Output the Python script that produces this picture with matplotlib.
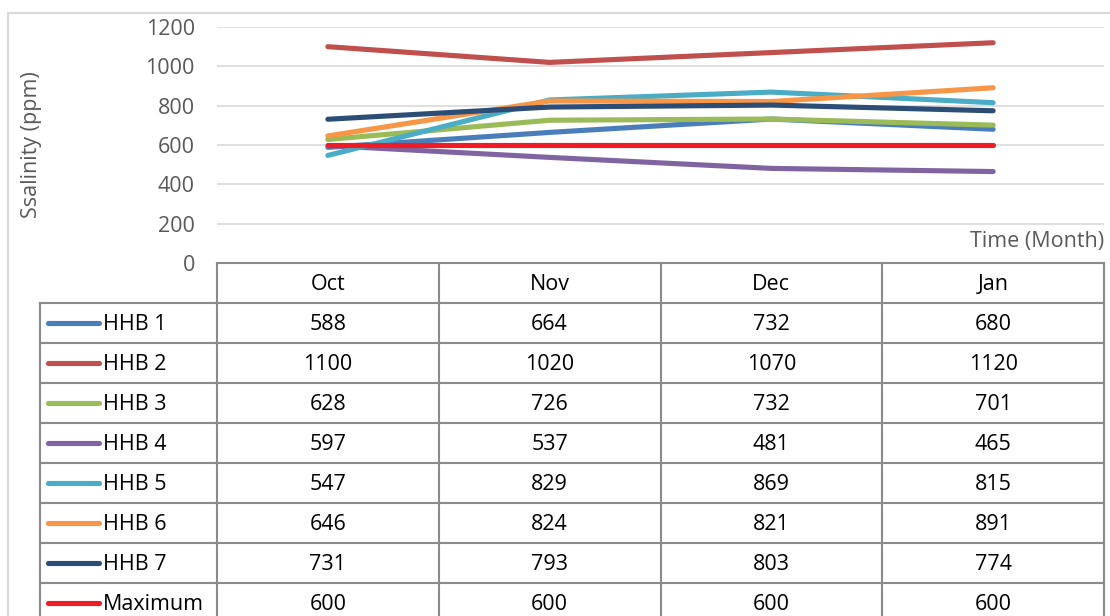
import numpy as np
import matplotlib.pyplot as plt
from matplotlib.patches import Rectangle
from matplotlib.lines import Line2D

months = ["Oct", "Nov", "Dec", "Jan"]
series_names = ["HHB 1", "HHB 2", "HHB 3", "HHB 4", "HHB 5", "HHB 6", "HHB 7", "Maximum"]
hhb1 = [588, 664, 732, 680]
hhb2 = [1100, 1020, 1070, 1120]
hhb3 = [628, 726, 732, 701]
hhb4 = [597, 537, 481, 465]
hhb5 = [547, 829, 869, 815]
hhb6 = [646, 824, 821, 891]
hhb7 = [731, 793, 803, 774]
maximum = [600, 600, 600, 600]
colors = ["#4a7ebb", "#c0504d", "#9bbb59", "#8064a2", "#4bacc6", "#f79646", "#2c4d75", "#ee1c25"]

all_series = [hhb1, hhb2, hhb3, hhb4, hhb5, hhb6, hhb7, maximum]

plt.rcParams['font.family'] = ['Open Sans', 'DejaVu Sans']
FS = 15.5
LW = 3.7

W, H = 1110, 616
fig = plt.figure(figsize=(W / 100, H / 100), dpi=100)

def fx(x):
    return x / W

def fy(y):
    return 1 - y / H

# outer chart frame
fig.patches.append(Rectangle((fx(8), fy(700)), fx(1200), fy(13) - fy(700),
                             transform=fig.transFigure, fill=False,
                             edgecolor="#d9d9d9", linewidth=1.5))

left, right, top, bottom = 217, 1104, 27, 263
ax = fig.add_axes([fx(left), fy(bottom), fx(right - left), fy(top) - fy(bottom)])
x = np.arange(len(months))
for name, vals, c in zip(series_names, all_series, colors):
    ax.plot(x, vals, color=c, linewidth=LW, solid_capstyle="round", label=name, zorder=3)
ax.set_xlim(-0.5, len(months) - 0.5)
ax.set_ylim(0, 1200)
ax.set_yticks(range(0, 1201, 200))
ax.set_xticks([])
ax.yaxis.grid(True, color="#d9d9d9", linewidth=1.2)
ax.set_axisbelow(True)
for s in ax.spines.values():
    s.set_visible(False)
ax.tick_params(axis="y", length=0, pad=16, labelsize=FS, labelcolor="#595959")
ax.set_ylabel("Ssalinity (ppm)", fontsize=FS, color="#595959")
ax.yaxis.set_label_coords((42 - left) / (right - left), 0.5)
ax.text(1.0, (bottom - 241) / (bottom - top), "Time (Month)", transform=ax.transAxes,
        ha="right", va="center", fontsize=FS, color="#595959")

# data table under the plot
grid_c = "#8a8a8a"
row_h = 40
col_x = np.linspace(left, right, len(months) + 1)
key_left = 40
n_rows = len(series_names)
table_bottom = bottom + row_h * (n_rows + 1)
text_dy = 2

def hline(y, x0, x1):
    fig.add_artist(Line2D([fx(x0), fx(x1)], [fy(y), fy(y)], color=grid_c, linewidth=1.5))

def vline(x, y0, y1):
    fig.add_artist(Line2D([fx(x), fx(x)], [fy(y0), fy(y1)], color=grid_c, linewidth=1.5))

hline(bottom, left, right)
for i in range(n_rows + 1):
    hline(bottom + row_h * (i + 1), key_left, right)
vline(key_left, bottom + row_h, table_bottom)
for cx in col_x:
    vline(cx, bottom, table_bottom)

for j, m in enumerate(months):
    cx = (col_x[j] + col_x[j + 1]) / 2
    fig.text(fx(cx), fy(bottom + row_h / 2 + text_dy), m, ha="center", va="center", fontsize=FS)

for i, (name, vals, c) in enumerate(zip(series_names, all_series, colors)):
    cy = bottom + row_h * (i + 1.5)
    fig.add_artist(Line2D([fx(48), fx(99)], [fy(cy), fy(cy)], color=c, linewidth=LW,
                          solid_capstyle="round"))
    fig.text(fx(103), fy(cy + text_dy), name, ha="left", va="center", fontsize=FS)
    for j, v in enumerate(vals):
        cx = (col_x[j] + col_x[j + 1]) / 2
        fig.text(fx(cx), fy(cy + text_dy), str(v), ha="center", va="center", fontsize=FS)

fig.savefig("out.png", dpi=100)
